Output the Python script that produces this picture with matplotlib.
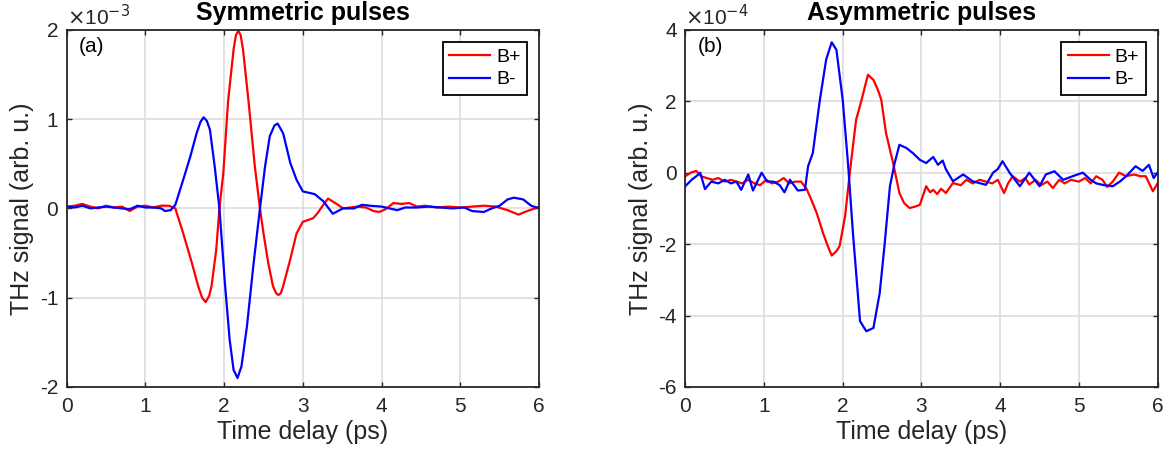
import matplotlib
matplotlib.use("Agg")
import matplotlib.pyplot as plt
import numpy as np

plt.rcParams['font.family'] = ['Liberation Sans', 'DejaVu Sans']
plt.rcParams['axes.unicode_minus'] = False

# ---------- Panel (a): symmetric pulses (units of 1e-3) ----------
t_sym_plus = [0, 0.1, 0.2, 0.3, 0.4, 0.5, 0.6, 0.7, 0.8, 0.9,
              1.0, 1.1, 1.2, 1.3, 1.38, 1.48, 1.59, 1.67, 1.72, 1.765,
              1.81, 1.84, 1.9, 1.94, 1.99, 2.05, 2.12, 2.15, 2.18, 2.21,
              2.24, 2.31, 2.39, 2.455, 2.5, 2.56, 2.62, 2.66, 2.69, 2.72,
              2.75, 2.84, 2.92, 3.0, 3.13, 3.19, 3.26, 3.32, 3.43, 3.51,
              3.6, 3.7, 3.8, 3.9, 3.97, 4.05, 4.15, 4.25, 4.35, 4.45,
              4.55, 4.7, 4.85, 5.0, 5.15, 5.3, 5.45, 5.6, 5.74, 5.85,
              5.95, 6.0]
v_sym_plus = [0.02, 0.03, 0.05, 0.02, 0.0, 0.03, 0.01, 0.02, -0.03, 0.02,
              0.03, 0.01, 0.03, 0.03, 0.0, -0.28, -0.61, -0.87, -1.0, -1.05,
              -0.98, -0.87, -0.46, 0.0, 0.4, 1.2, 1.78, 1.94, 1.99, 1.94,
              1.78, 1.2, 0.47, 0.0, -0.28, -0.61, -0.87, -0.95, -0.97, -0.95,
              -0.87, -0.57, -0.28, -0.15, -0.11, -0.05, 0.04, 0.11, 0.05, 0.0,
              0.01, 0.02, 0.01, -0.03, -0.04, -0.01, 0.06, 0.05, 0.06, 0.02,
              0.03, 0.01, 0.02, 0.01, 0.02, 0.03, 0.02, -0.02, -0.07, -0.03,
              0.0, 0.02]

t_sym_minus = [0, 0.1, 0.2, 0.3, 0.4, 0.5, 0.6, 0.7, 0.8, 0.9,
               1.0, 1.1, 1.2, 1.25, 1.32, 1.38, 1.48, 1.57, 1.65, 1.70,
               1.74, 1.78, 1.82, 1.88, 1.94, 2.01, 2.07, 2.12, 2.17, 2.22,
               2.29, 2.37, 2.455, 2.52, 2.58, 2.64, 2.68, 2.75, 2.84, 2.92,
               3.0, 3.15, 3.26, 3.38, 3.51, 3.65, 3.75, 3.85, 4.0, 4.1,
               4.2, 4.3, 4.45, 4.6, 4.75, 4.9, 5.05, 5.15, 5.3, 5.4,
               5.5, 5.6, 5.68, 5.8, 5.9, 6.0]
v_sym_minus = [0.02, 0.01, 0.03, 0.0, 0.01, 0.02, 0.01, 0.0, -0.01, 0.03,
               0.01, 0.01, 0.0, -0.03, -0.02, 0.04, 0.32, 0.58, 0.84, 0.97,
               1.02, 0.98, 0.88, 0.47, 0.0, -0.84, -1.47, -1.81, -1.9, -1.77,
               -1.32, -0.65, 0.0, 0.47, 0.81, 0.93, 0.95, 0.84, 0.51, 0.32,
               0.19, 0.16, 0.08, -0.06, 0.0, 0.0, 0.04, 0.03, 0.02, 0.0,
               -0.02, 0.01, 0.01, 0.02, 0.01, 0.0, 0.01, -0.03, -0.04, 0.0,
               0.03, 0.1, 0.12, 0.1, 0.03, 0.0]

# ---------- Panel (b): asymmetric pulses (units of 1e-4) ----------
t_asym_plus = [0, 0.07, 0.14, 0.2, 0.27, 0.35, 0.42, 0.5, 0.58, 0.65,
               0.72, 0.8, 0.88, 0.95, 1.03, 1.1, 1.18, 1.25, 1.32, 1.4,
               1.47, 1.54, 1.6, 1.67, 1.75, 1.81, 1.86, 1.92, 1.96, 2.03,
               2.09, 2.17, 2.24, 2.32, 2.39, 2.45, 2.49, 2.55, 2.64, 2.72,
               2.78, 2.85, 2.92, 2.98, 3.06, 3.11, 3.15, 3.2, 3.25, 3.31,
               3.4, 3.5, 3.57, 3.65, 3.74, 3.82, 3.9, 3.97, 4.05, 4.1,
               4.16, 4.25, 4.32, 4.37, 4.45, 4.52, 4.6, 4.67, 4.75, 4.82,
               4.9, 5.0, 5.08, 5.15, 5.22, 5.3, 5.36, 5.43, 5.51, 5.6,
               5.7, 5.78, 5.85, 5.94, 6.0]
v_asym_plus = [-0.1, 0.0, 0.05, -0.1, -0.15, -0.2, -0.15, -0.25, -0.2, -0.25,
               -0.3, -0.2, -0.3, -0.35, -0.2, -0.3, -0.25, -0.15, -0.3, -0.25,
               -0.25, -0.45, -0.75, -1.13, -1.69, -2.05, -2.32, -2.2, -2.06, -1.22,
               0.0, 1.48, 2.04, 2.74, 2.6, 2.3, 2.04, 1.11, 0.27, -0.57,
               -0.85, -0.99, -0.95, -0.9, -0.38, -0.55, -0.48, -0.6, -0.45, -0.57,
               -0.29, -0.35, -0.2, -0.3, -0.2, -0.25, -0.3, -0.2, -0.57, -0.3,
               -0.1, -0.25, -0.15, -0.33, -0.2, -0.35, -0.25, -0.43, -0.2, -0.3,
               -0.2, -0.25, -0.15, -0.3, -0.1, -0.2, -0.4, -0.25, 0.0, -0.1,
               -0.05, -0.1, -0.1, -0.52, -0.3]

t_asym_minus = [0, 0.08, 0.14, 0.19, 0.25, 0.33, 0.42, 0.5, 0.58, 0.65,
                0.71, 0.8, 0.86, 0.97, 1.04, 1.12, 1.2, 1.26, 1.33, 1.43,
                1.52, 1.56, 1.62, 1.71, 1.79, 1.86, 1.92, 2.0, 2.07, 2.13,
                2.22, 2.3, 2.39, 2.47, 2.53, 2.6, 2.66, 2.72, 2.81, 2.89,
                2.98, 3.06, 3.15, 3.21, 3.27, 3.31, 3.4, 3.53, 3.65, 3.82,
                3.91, 3.97, 4.03, 4.12, 4.25, 4.37, 4.5, 4.58, 4.69, 4.8,
                4.92, 5.05, 5.15, 5.22, 5.32, 5.43, 5.52, 5.6, 5.72, 5.81,
                5.89, 5.95, 6.0]
v_asym_minus = [-0.38, -0.2, -0.1, 0.0, -0.46, -0.25, -0.3, -0.2, -0.3, -0.25,
                -0.48, -0.05, -0.5, 0.0, -0.25, -0.25, -0.35, -0.55, -0.2, -0.5,
                -0.48, 0.18, 0.55, 2.04, 3.17, 3.65, 3.44, 2.04, 0.18, -1.69,
                -4.16, -4.44, -4.35, -3.37, -2.06, -0.38, 0.27, 0.78, 0.69, 0.55,
                0.36, 0.27, 0.44, 0.22, 0.34, 0.1, -0.24, -0.05, -0.24, -0.34,
                0.0, 0.1, 0.32, 0.0, -0.38, 0.0, -0.38, -0.05, 0.04, -0.2,
                -0.1, 0.0, -0.2, -0.3, -0.35, -0.38, -0.25, -0.1, 0.18, 0.05,
                0.22, -0.15, 0.0]

x_ticks = [0, 1, 2, 3, 4, 5, 6]
sym_yticks = [-2, -1, 0, 1, 2]
asym_yticks = [-6, -4, -2, 0, 2, 4]
labels = ['B+', 'B-']
titles = ['Symmetric pulses', 'Asymmetric pulses']
panel_tags = ['(a)', '(b)']
exponents = ['-3', '-4']

fig = plt.figure(figsize=(11.7, 4.59), dpi=100)
ax1 = fig.add_axes([0.057, 0.157, 0.4037, 0.778])
ax2 = fig.add_axes([0.5857, 0.157, 0.4037, 0.778])

panels = [
    (ax1, t_sym_plus, v_sym_plus, t_sym_minus, v_sym_minus, sym_yticks),
    (ax2, t_asym_plus, v_asym_plus, t_asym_minus, v_asym_minus, asym_yticks),
]

edge = '#262626'
for i, (ax, tp, vp, tm, vm, yt) in enumerate(panels):
    ax.plot(tp, vp, color=(1, 0, 0), lw=1.6, label=labels[0])
    ax.plot(tm, vm, color=(0, 0, 1), lw=1.6, label=labels[1])
    ax.set_xlim(0, 6)
    ax.set_ylim(yt[0], yt[-1])
    ax.set_xticks(x_ticks)
    ax.set_yticks(yt)
    ax.set_xticklabels([str(v) for v in x_ticks])
    ax.set_yticklabels([str(v) for v in yt])
    ax.grid(True, color='#dadada', lw=1.1)
    ax.set_axisbelow(True)
    ax.tick_params(direction='in', top=True, right=True, length=3.6,
                   labelsize=15, colors=edge, width=1.0)
    ax.tick_params(axis='x', pad=7)
    ax.tick_params(axis='y', pad=6)
    for s in ax.spines.values():
        s.set_color(edge)
        s.set_linewidth(1.3)
    ax.set_xlabel('Time delay (ps)', fontsize=18, color=edge, labelpad=3)
    ax.set_ylabel('THz signal (arb. u.)', fontsize=18, color=edge, labelpad=4)
    ax.set_title(titles[i], fontsize=18, fontweight='bold', pad=7)
    ax.text(0.0, 1.003, r'$\times$10$^{%s}$' % exponents[i], transform=ax.transAxes,
            ha='left', va='bottom', fontsize=15, color=edge)
    ax.text(0.026, 0.953, panel_tags[i], transform=ax.transAxes,
            ha='left', va='center', fontsize=15, color='black')
    leg = ax.legend(loc='upper right', fontsize=14, fancybox=False,
                    edgecolor='black', framealpha=1, borderaxespad=0.6,
                    handlelength=2.1, handletextpad=0.3, borderpad=0.35,
                    labelspacing=0.25)
    leg.get_frame().set_linewidth(1.3)

fig.savefig('out.png', dpi=100)
